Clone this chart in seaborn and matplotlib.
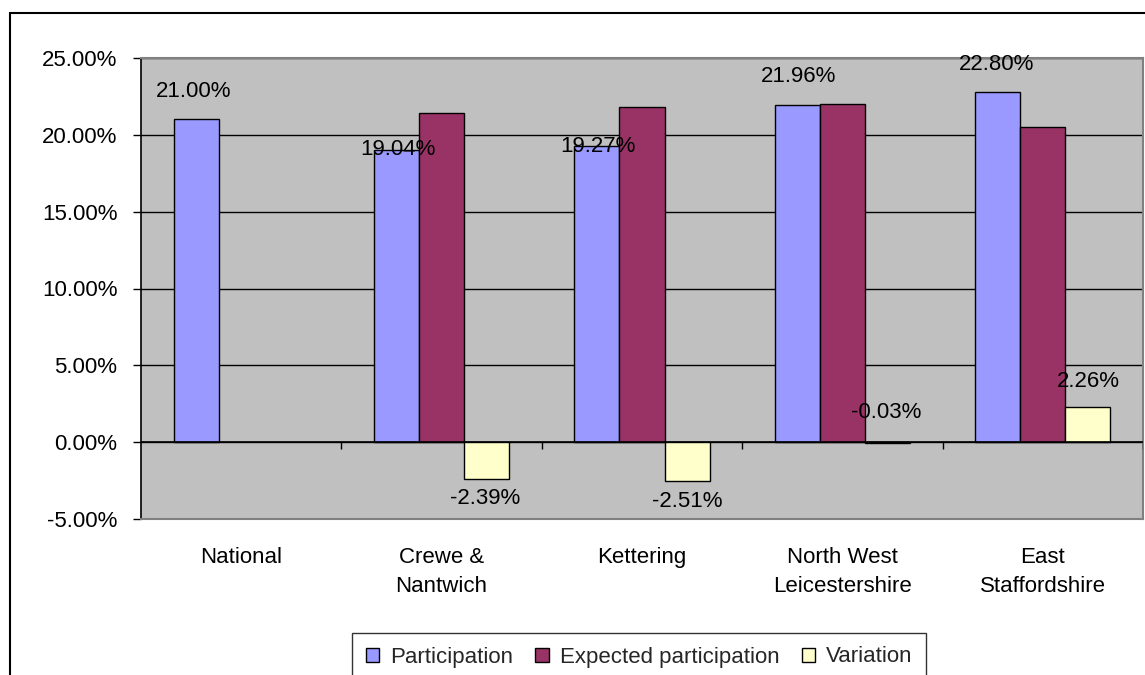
import matplotlib
matplotlib.use("Agg")
import matplotlib.pyplot as plt
import matplotlib.patches as mpatches
import seaborn as sns
import pandas as pd
import numpy as np

categories = ["National", "Crewe &\nNantwich", "Kettering", "North West\nLeicestershire", "East\nStaffordshire"]
series = ["Participation", "Expected participation", "Variation"]
participation = [21.00, 19.04, 19.27, 21.96, 22.80]
expected = [np.nan, 21.43, 21.78, 21.99, 20.54]
variation = [np.nan, -2.39, -2.51, -0.03, 2.26]
yticks = [-5, 0, 5, 10, 15, 20, 25]
colors = ["#9999FF", "#993366", "#FFFFCC"]

rows = []
for s, vals in zip(series, [participation, expected, variation]):
    for c, v in zip(categories, vals):
        rows.append({"cat": c, "series": s, "value": v})
df = pd.DataFrame(rows)

sns.set_theme(style="white")
plt.rcParams["font.family"] = ["Liberation Sans", "DejaVu Sans"]
FS = 16

W, H = 1145, 675
fig = plt.figure(figsize=(W / 100, H / 100), dpi=100)
fig.patch.set_facecolor("white")
ax = fig.add_axes([141 / W, (H - 519) / H, (1143 - 141) / W, (519 - 58) / H])
ax.set_facecolor("#C0C0C0")

sns.barplot(data=df, x="cat", y="value", hue="series", order=categories,
            hue_order=series, palette=colors, width=0.675, ax=ax,
            edgecolor="black", linewidth=1.0, saturation=1, errorbar=None,
            legend=False, zorder=3)

ax.set_ylim(-5, 25)
ax.set_xlim(-0.5, 4.5)
ax.set_yticks(yticks)
ax.set_yticklabels([f"{v:.2f}%" for v in yticks], fontsize=FS, color="black")
ax.yaxis.grid(True, color="black", linewidth=1.0, zorder=0)
ax.set_axisbelow(True)
ax.tick_params(axis="y", which="major", left=True, length=6, width=1, pad=11, color="black")
ax.tick_params(axis="x", length=0, pad=20)
ax.set_xticklabels(categories, fontsize=FS, color="black", linespacing=1.5)
ax.set_xlabel("")
ax.set_ylabel("")

for side in ["top", "right", "bottom"]:
    ax.spines[side].set_color("#808080")
    ax.spines[side].set_linewidth(1.5)
ax.spines["left"].set_color("black")
ax.spines["left"].set_linewidth(1.2)

# zero axis line and category boundary ticks
ax.axhline(0, color="black", linewidth=1.2, zorder=4)
ax.vlines([0.5, 1.5, 2.5, 3.5, 4.5], 0, -0.45, color="black", linewidth=1, zorder=4)

# data labels
bw = 0.225
p_off = [(-2, 28), (1, 0), (1, 0), (1, 28), (-1, 27)]
for i, v in enumerate(participation):
    ax.annotate(f"{v:.2f}%", (i - bw, v), xytext=p_off[i], textcoords="offset pixels",
                ha="center", va="center", fontsize=FS, color="black", zorder=5)
v_off = [(-2, -20), (0, -21), (-1, 30), (0, 26)]
for i, v in enumerate(variation):
    if np.isnan(v):
        continue
    dx, dy = v_off[i - 1]
    base = v if v < 0 or i != 3 else 0
    ax.annotate(f"{v:.2f}%", (i + bw, base), xytext=(dx, dy), textcoords="offset pixels",
                ha="center", va="center", fontsize=FS, color="black", zorder=5)

# outer chart border (cropped)
fig.patches.append(mpatches.Rectangle((10 / W, -0.2), 2, (H - 13) / H + 0.2,
                                      transform=fig.transFigure, fill=False,
                                      edgecolor="black", linewidth=1.5, figure=fig))

handles = [mpatches.Patch(facecolor=c, edgecolor="black", linewidth=1) for c in colors]
leg = fig.legend(handles, series, loc="center", bbox_to_anchor=(639 / W, (H - 657) / H),
                 ncol=3, frameon=True, fancybox=False, fontsize=FS,
                 handlelength=0.6, handleheight=0.6, handletextpad=0.5,
                 columnspacing=1.0, borderpad=0.6, borderaxespad=0, edgecolor="black")
leg.get_frame().set_linewidth(1.0)
leg.get_frame().set_facecolor("white")

fig.savefig("out.png", dpi=100)
